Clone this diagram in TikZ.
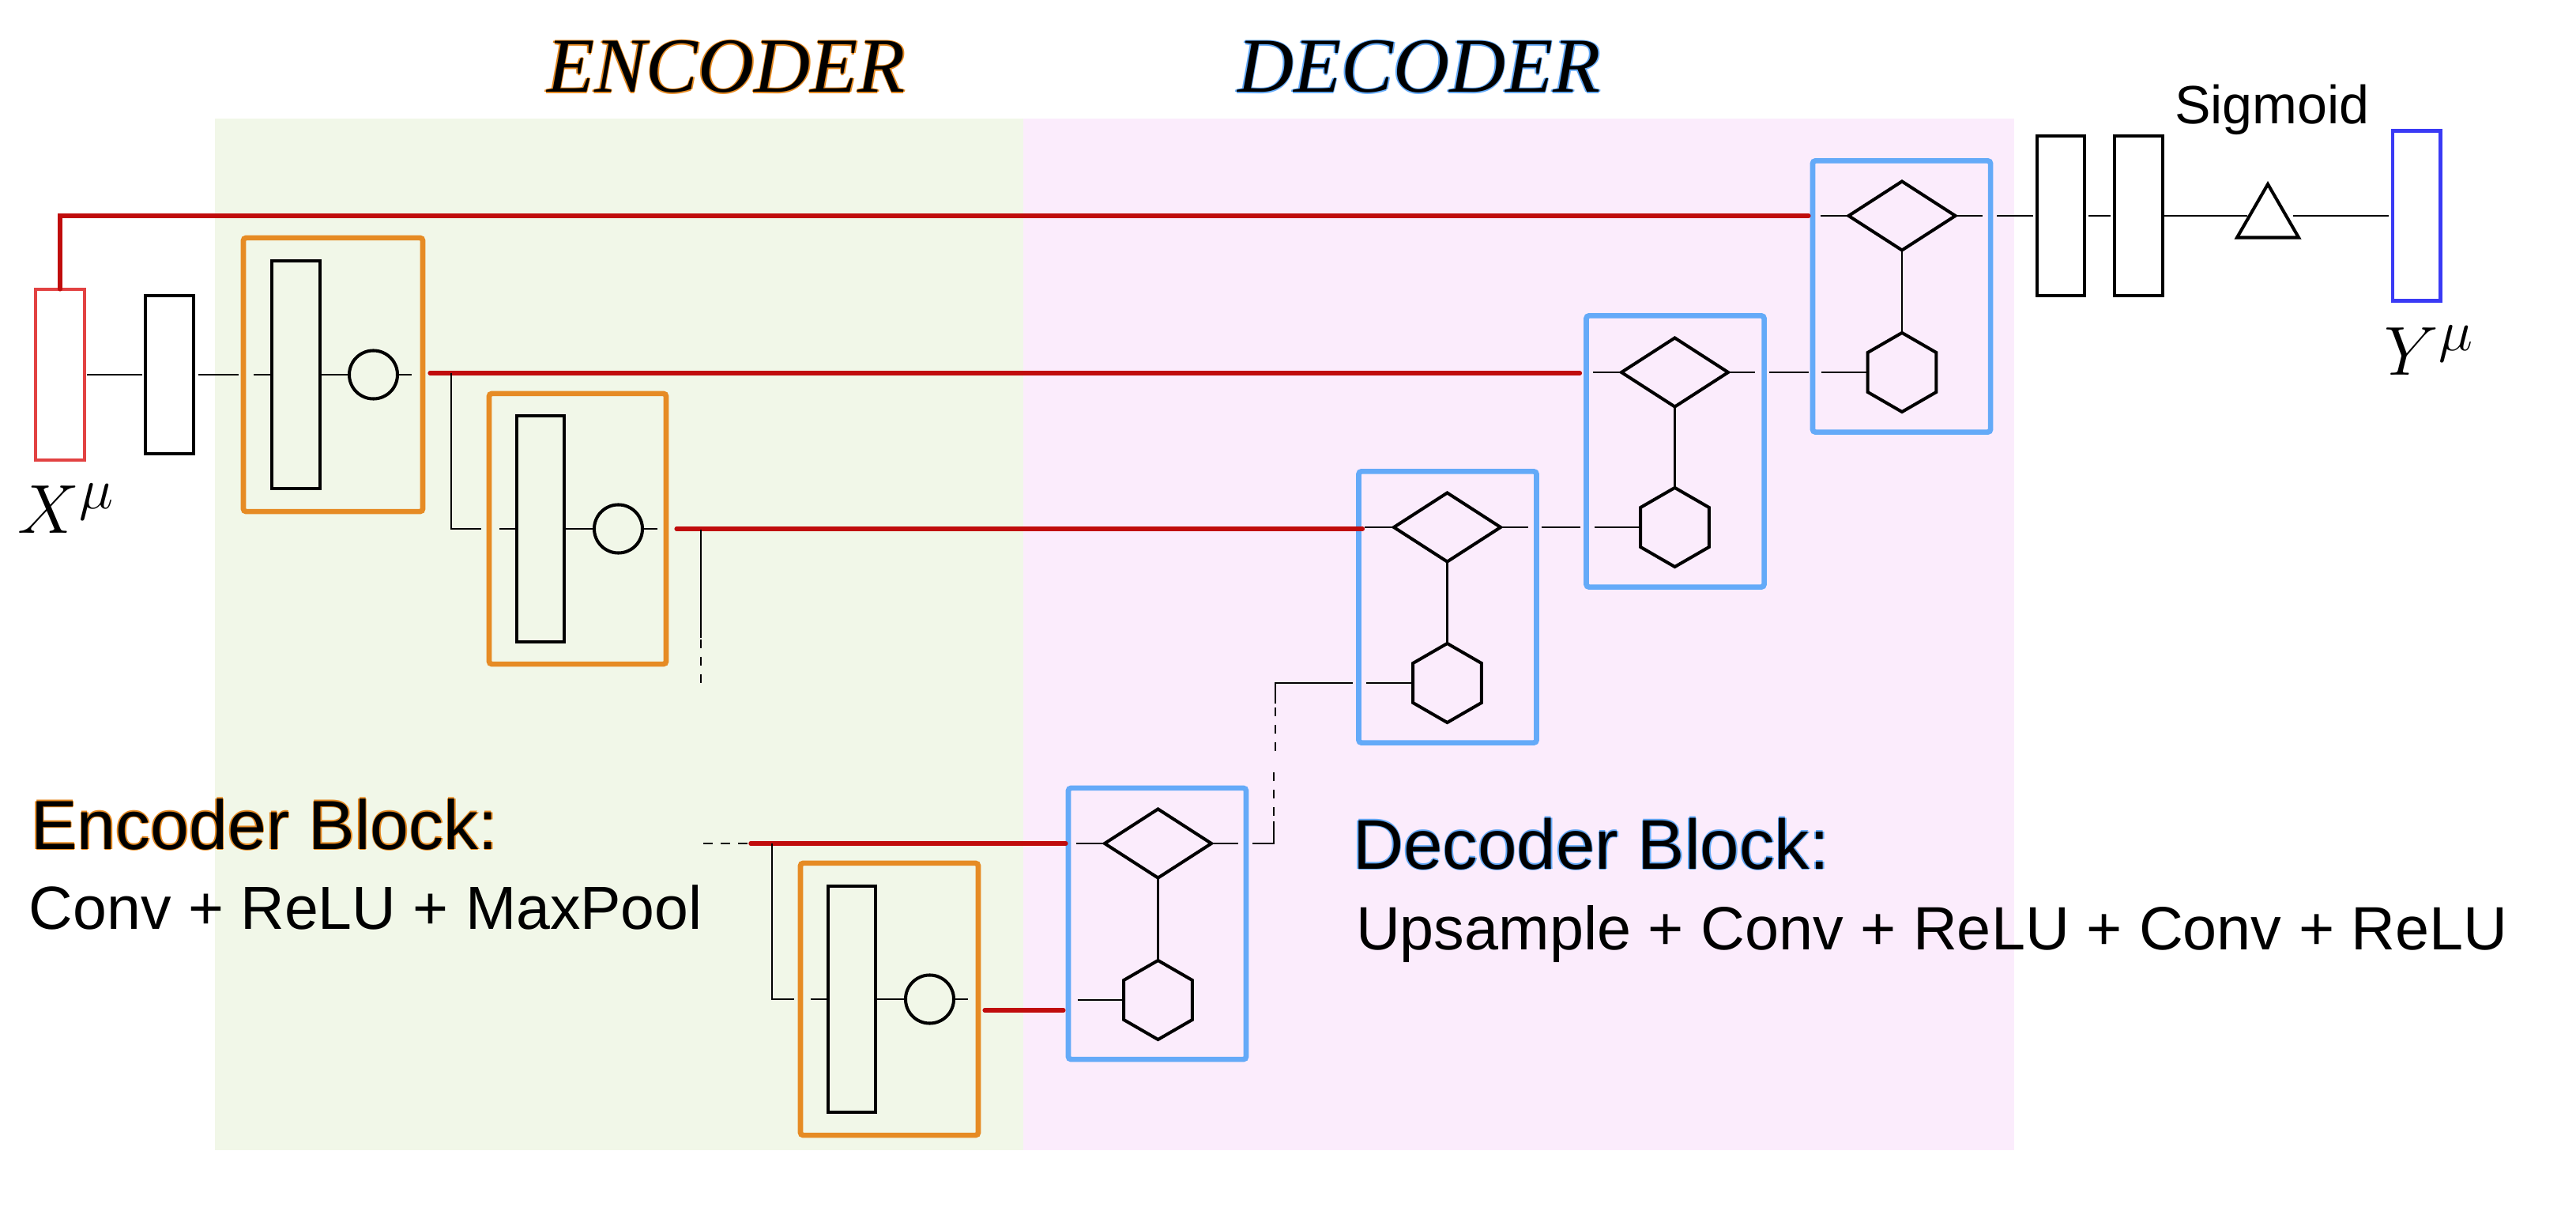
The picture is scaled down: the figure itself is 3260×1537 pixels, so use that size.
\documentclass[tikz,border=0pt]{standalone}
\usepackage{fontspec}
\setsansfont{Liberation Sans}
\newfontfamily\titlefont{Liberation Serif}
\usetikzlibrary{calc,shapes.geometric}
\definecolor{encbg}{RGB}{241,247,232}
\definecolor{decbg}{RGB}{251,236,252}
\definecolor{encor}{RGB}{230,139,36}
\definecolor{decbl}{RGB}{100,170,248}
\definecolor{skipred}{RGB}{192,12,12}
\definecolor{xred}{RGB}{226,66,66}
\definecolor{yblue}{RGB}{58,58,245}
\newcommand\halo[2]{%
  \makebox[0pt][l]{\kern-0.45pt\textcolor{#1}{#2}}%
  \makebox[0pt][l]{\kern0.45pt\textcolor{#1}{#2}}%
  \makebox[0pt][l]{\raisebox{0.45pt}{\textcolor{#1}{#2}}}%
  \makebox[0pt][l]{\raisebox{-0.45pt}{\textcolor{#1}{#2}}}%
  #2}
\begin{document}
\begin{tikzpicture}[x=0.01cm,y=-0.01cm,
  every node/.style={inner sep=0pt,outer sep=0pt},
  layer/.style 2 args={draw,rectangle,line width=1.15pt,minimum width=#1,minimum height=#2},
  encbox/.style={draw=encor,rectangle,line width=1.9pt,rounded corners=1pt,minimum width=2.25cm,minimum height=3.44cm},
  decbox/.style={draw=decbl,rectangle,line width=1.9pt,rounded corners=1pt,minimum width=2.25cm,minimum height=3.43cm},
  relu/.style={draw,circle,line width=1.15pt,minimum size=0.61cm},
  upsm/.style={draw,diamond,line width=1.15pt,minimum width=1.35cm,minimum height=0.87cm},
  convh/.style={draw,regular polygon,regular polygon sides=6,shape border rotate=30,line width=1.15pt,minimum size=1cm},
  sigm/.style={draw,regular polygon,regular polygon sides=3,line width=1.15pt,minimum size=0.9cm},
  conn/.style={line width=0.75pt},
  skipline/.style={draw=skipred,line width=1.5pt,line cap=round},
  dashA/.style={dash pattern=on 3.1pt off 3.1pt},
  dashC/.style={dash pattern=on 3.4pt off 2.85pt}
]
\useasboundingbox (0,0) rectangle (3260,1537);
% backgrounds
\fill[encbg] (272,150) rectangle (1295,1455);
\fill[decbg] (1295,150) rectangle (2549,1455);

% titles and labels
\node[anchor=base,font=\titlefont\itshape\fontsize{28}{32}\selectfont] (enctitle) at (919,117) {\halo{encor}{ENCODER}};
\node[anchor=base,font=\titlefont\itshape\fontsize{28}{32}\selectfont] (dectitle) at (1796,117) {\halo{decbl}{DECODER}};
\node[anchor=base west,font=\sffamily\fontsize{25}{30}\selectfont] (encblk) at (39,1074) {\halo{encor}{Encoder Block:}};
\node[anchor=base west,font=\sffamily\fontsize{21.9}{26}\selectfont] (encops) at (37,1175) {Conv + ReLU + MaxPool};
\node[anchor=base west,font=\sffamily\fontsize{25.3}{30}\selectfont] (decblk) at (1712,1099) {\halo{decbl}{Decoder Block:}};
\node[anchor=base west,font=\sffamily\fontsize{22}{26}\selectfont] (decops) at (1716,1201) {Upsample + Conv + ReLU + Conv + ReLU};
\node[anchor=base west,font=\sffamily\fontsize{19.4}{23}\selectfont] (sig) at (2752,157) {Sigmoid};
\node[anchor=base,font=\fontsize{24.88}{29}\selectfont] (xlab) at (84,675) {$X^{\mu}$};
\node[anchor=base,font=\fontsize{24.88}{29}\selectfont] (ylab) at (3074,475) {$Y^{\mu}$};

% encoder nodes
\node[layer={0.62cm}{2.16cm},draw=xred,line width=1.2pt] (X) at (76,474) {};
\node[layer={0.61cm}{2.00cm}] (L1) at (214.5,474) {};
\node[encbox,minimum width=2.27cm,minimum height=3.46cm] (enc1) at (421.5,474) {};
\node[layer={0.61cm}{2.87cm}] (c1) at (374.5,474) {};
\node[relu] (r1) at (472.5,474) {};
\node[encbox,minimum width=2.24cm,minimum height=3.42cm] (enc2) at (731,669) {};
\node[layer={0.60cm}{2.86cm}] (c2) at (684,669) {};
\node[relu] (r2) at (782.5,669) {};
\node[encbox] (enc3) at (1125.5,1264) {};
\node[layer={0.60cm}{2.86cm}] (c3) at (1078,1264) {};
\node[relu] (r3) at (1176.5,1264) {};

% decoder nodes
\node[decbox] (dec1) at (1464.5,1168.5) {};
\node[upsm] (d1) at (1465.5,1067) {};
\node[convh] (h1) at (1465.5,1265) {};
\node[decbox] (dec2) at (1832,768) {};
\node[upsm] (d2) at (1831.5,667) {};
\node[convh] (h2) at (1831.5,864) {};
\node[decbox] (dec3) at (2120,571) {};
\node[upsm] (d3) at (2119.5,471) {};
\node[convh] (h3) at (2119.5,667) {};
\node[decbox] (dec4) at (2406.5,375) {};
\node[upsm] (d4) at (2407,273) {};
\node[convh] (h4) at (2407,471) {};

% output head
\node[layer={0.60cm}{2.01cm}] (FA) at (2608,273) {};
\node[layer={0.61cm}{2.01cm}] (FB) at (2706.5,273) {};
\node[sigm] (tri) at (2870,278) {};
\node[layer={0.60cm}{2.14cm},draw=yblue,line width=1.4pt] (Y) at (3058,273) {};

% ---- encoder row 1
\draw[conn] ($(X.east)+(3,0)$) -- ($(L1.west)+(-4,0)$);
\draw[conn] ($(L1.east)+(6,0)$) -- ($(enc1.west)+(-6,0)$);
\draw[conn] ($(enc1.west)+(13,0)$) -- (c1.west);
\draw[conn] (c1.east) -- (r1.west);
\draw[conn] (r1.east) -- ($(enc1.east)+(-14,0)$);
\draw[skipline] ($(enc1.east)+(9,-2)$) -- ($(enc1.east -| dec3.west)+(-8,-2)$);
% skip down to encoder 2
\draw[conn] ($(enc1.east)+(36,-2)$) |- ($(enc2.west)+(-10,0)$);
\draw[conn] ($(enc2.west)+(13,0)$) -- (c2.west);
\draw[conn] (c2.east) -- (r2.west);
\draw[conn] (r2.east) -- ($(enc2.east)+(-11,0)$);
\draw[skipline] ($(enc2.east)+(13,0)$) -- ($(enc2.east -| dec2.west)+(5,0)$);
\coordinate (s2a) at ($(enc2.east)+(44,1)$);
\coordinate (s2b) at ($(s2a)+(0,137)$);
\coordinate (s2c) at ($(s2a)+(0,139)$);
\coordinate (s2d) at ($(s2a)+(0,195)$);
\draw[conn] (s2a) -- (s2b);
\draw[conn,dashA] (s2c) -- (s2d);

% ---- encoder row 3
\coordinate (e3a) at ($(enc3.west|-d1)+(-123,0)$);
\coordinate (e3b) at ($(enc3.west|-d1)+(-67,0)$);
\draw[conn,dashC] (e3a) -- (e3b);
\draw[skipline] ($(enc3.west|-d1)+(-63,0)$) -- ($(dec1.west|-d1)+(-3,0)$);
\draw[conn] ($(enc3.west|-d1)+(-36,0)$) |- ($(enc3.west)+(-8,0)$);
\draw[conn] ($(enc3.west)+(13,0)$) -- (c3.west);
\draw[conn] (c3.east) -- (r3.west);
\draw[conn] (r3.east) -- ($(enc3.east)+(-13,0)$);
\draw[skipline] ($(enc3.east)+(8,14)$) -- ($(enc3.east -| dec1.west)+(-6,14)$);

% ---- decoder 1
\draw[conn] ($(dec1.west|-d1)+(10,0)$) -- (d1.west);
\draw[conn] (d1.east) -- ($(dec1.east|-d1)+(-10,0)$);
\draw[conn] (d1.south) -- (h1.north);
\draw[conn] ($(dec1.west|-h1)+(12,0)$) -- (h1.west);
\coordinate (u1) at ($(dec1.east|-d1)+(35,0)$);
\coordinate (u3) at ($(u1 |- h2)+(2,0)$);
\draw[conn] ($(dec1.east|-d1)+(8,0)$) -- (u1) -- ($(u1)+(0,-28)$);
\draw[conn,dashA] ($(u1)+(0,-35)$) -- ($(u1)+(0,-91)$);
\draw[conn,dashA] ($(u3)+(0,31)$) -- ($(u3)+(0,87)$);
\draw[conn] ($(u3)+(0,26)$) -- (u3) -- ($(dec2.west|-h2)+(-7,0)$);
\draw[conn] ($(dec2.west|-h2)+(10,0)$) -- (h2.west);

% ---- decoder 2
\draw[conn] ($(dec2.west|-d2)+(8,0)$) -- (d2.west);
\draw[conn] (d2.east) -- ($(dec2.east|-d2)+(-11,0)$);
\draw[conn] (d2.south) -- (h2.north);
\draw[conn] ($(dec2.east|-d2)+(6,0)$) -- ($(dec3.west|-h3)+(-7,0)$);
\draw[conn] ($(dec3.west|-h3)+(11,0)$) -- (h3.west);

% ---- decoder 3
\draw[conn] ($(dec3.west|-d3)+(9,0)$) -- (d3.west);
\draw[conn] (d3.east) -- ($(dec3.east|-d3)+(-12,0)$);
\draw[conn] (d3.south) -- (h3.north);
\draw[conn] ($(dec3.east|-d3)+(6,0)$) -- ($(dec4.west|-h4)+(-5,0)$);
\draw[conn] ($(dec4.west|-h4)+(11,0)$) -- (h4.west);

% ---- decoder 4 and head
\draw[skipline] (X.north) |- ($(dec4.west|-d4)+(-5,0)$);
\draw[conn] ($(dec4.west|-d4)+(10,0)$) -- (d4.west);
\draw[conn] (d4.east) -- ($(dec4.east|-d4)+(-10,0)$);
\draw[conn] (d4.south) -- (h4.north);
\draw[conn] ($(dec4.east|-d4)+(8,0)$) -- ($(FA.west)+(-5,0)$);
\draw[conn] ($(FA.east)+(5,0)$) -- ($(FB.west)+(-5,0)$);
\draw[conn] (FB.east) -- (FB.east -| tri.west);
\draw[conn] ($(tri.east|-Y.west)+(6,0)$) -- ($(Y.west)+(-5,0)$);
\end{tikzpicture}
\end{document}
